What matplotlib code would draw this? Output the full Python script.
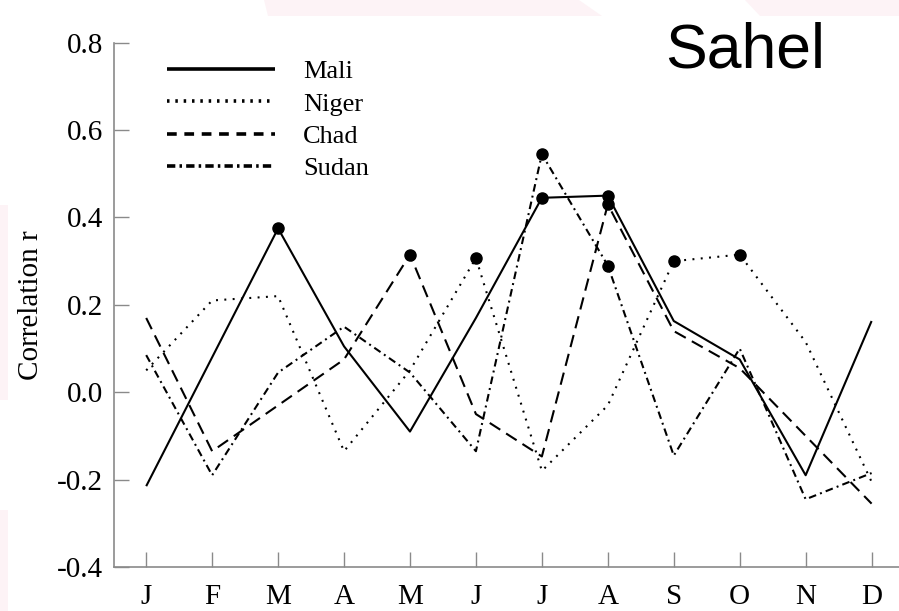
import matplotlib
matplotlib.use('Agg')
import matplotlib.pyplot as plt
from matplotlib.patches import Polygon
from matplotlib.lines import Line2D

# Monthly correlations for the four Sahel countries
months = ['J', 'F', 'M', 'A', 'M', 'J', 'J', 'A', 'S', 'O', 'N', 'D']
mali = [-0.215, 0.08, 0.375, 0.105, -0.09, 0.17, 0.445, 0.45, 0.163, 0.075, -0.19, 0.163]
niger = [0.05, 0.21, 0.22, -0.135, 0.05, 0.307, -0.18, -0.03, 0.30, 0.315, 0.115, -0.205]
chad = [0.17, -0.135, -0.03, 0.075, 0.315, -0.05, -0.147, 0.43, 0.14, 0.055, -0.10, -0.255]
sudan = [0.085, -0.19, 0.045, 0.15, 0.045, -0.135, 0.545, 0.29, -0.145, 0.10, -0.245, -0.185]

# months where the correlation is significant (dots)
mali_sig = [2, 6, 7]
niger_sig = [5, 8, 9]
chad_sig = [4, 7]
sudan_sig = [6, 7]

names = ['Mali', 'Niger', 'Chad', 'Sudan']
series = [mali, niger, chad, sudan]
sig = [mali_sig, niger_sig, chad_sig, sudan_sig]
styles = [(0, ()), (0, (1.4, 4.6)), (0, (9, 5)), (0, (5.5, 3, 1.4, 3))]
legend_styles = [(0, ()), (0, (1.8, 4.2)), (0, (7, 5.5)), (0, (6, 3, 1.8, 3))]

plt.rcParams['lines.scale_dashes'] = False
plt.rcParams['font.family'] = 'Liberation Serif'

W, H = 899, 611
fig = plt.figure(figsize=(W / 100, H / 100), dpi=100)

# faint pink shapes of the slide background
pink = '#fdf3f6'
for pts in [[(264, 0), (579, 0), (602, 16), (268, 16)],
            [(745, 0), (899, 0), (899, 16), (760, 16)],
            [(0, 205), (8, 205), (8, 400), (0, 400)],
            [(0, 510), (8, 510), (8, 611), (0, 611)]]:
    fig.patches.append(Polygon([(x / W, 1 - y / H) for x, y in pts], closed=True,
                               transform=fig.transFigure, facecolor=pink,
                               edgecolor='none', zorder=0))

x0, x_j, x_d = 114, 146.2, 871.6
step = (x_d - x_j) / 11
y_top, y_bot = 42.7, 567.0
ax = fig.add_axes([x0 / W, (H - y_bot) / H, (W - x0) / W, (y_bot - y_top) / H])
ax.patch.set_alpha(0)

x = list(range(12))
for vals, idx, ls in zip(series, sig, styles):
    ax.plot(x, vals, color='black', lw=1.5, linestyle=ls)
    ax.plot(idx, [vals[i] for i in idx], 'o', color='black', ms=8)

ax.set_xlim((x0 - x_j) / step, (W - x_j) / step)
ax.set_ylim(-0.4, 0.8)

for s in ['top', 'right']:
    ax.spines[s].set_visible(False)
for s in ['left', 'bottom']:
    ax.spines[s].set_color('#8a8a8a')
    ax.spines[s].set_linewidth(1.2)

ax.set_xticks(x)
ax.set_xticklabels(months)
ax.set_yticks([-0.4, -0.2, 0.0, 0.2, 0.4, 0.6, 0.8])
ax.set_yticklabels(['-0.4', '-0.2', '0.0', '0.2', '0.4', '0.6', '0.8'])
ax.tick_params(axis='both', direction='in', color='#8a8a8a', width=1.0,
               labelsize=21, labelcolor='black')
ax.tick_params(axis='y', length=11, pad=8)
ax.tick_params(axis='x', length=11, pad=12)

ax.set_ylabel('Correlation r', fontsize=21)
ax.yaxis.set_label_coords((44 - x0) / (W - x0), 0.5)

handles = [Line2D([], [], color='black', lw=2.6, linestyle=ls) for ls in legend_styles]
ax.legend(handles, names, loc='upper left', bbox_to_anchor=(167 / W, 1 - 60 / H),
          bbox_transform=fig.transFigure, frameon=False, fontsize=19,
          handlelength=4.1, handletextpad=1.05, labelspacing=0.33,
          borderpad=0, borderaxespad=0)

fig.text(745 / W, 1 - 67 / H, 'Sahel', family='Liberation Sans', fontsize=45,
         ha='center', va='baseline')

fig.savefig('out.png', dpi=100)
